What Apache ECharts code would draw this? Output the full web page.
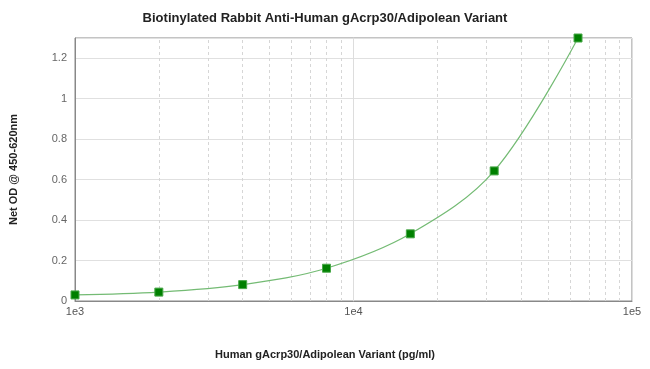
<!DOCTYPE html>
<html>
<head>
<meta charset="utf-8">
<script src="https://cdn.jsdelivr.net/npm/echarts@6/dist/echarts.min.js"></script>
<style>html,body{margin:0;padding:0;background:#fff;}#c{width:650px;height:369px;}</style>
</head>
<body>
<div id="c"></div>
<script>
var concentrations = [1000, 2000, 4000, 8000, 16000, 32000, 64000];
var odValues = [0.030, 0.044, 0.081, 0.162, 0.332, 0.643, 1.30];
var minorGridX = [2000, 3000, 4000, 5000, 6000, 7000, 8000, 9000, 20000, 30000, 40000, 50000, 60000, 70000, 80000, 90000];
var yTicks = [0, 0.2, 0.4, 0.6, 0.8, 1, 1.2];
var titleText = 'Biotinylated Rabbit Anti-Human gAcrp30/Adipolean Variant';
var xTitle = 'Human gAcrp30/Adipolean Variant (pg/ml)';
var yTitle = 'Net OD @ 450-620nm';

var pts = concentrations.map(function (c, i) { return [c, odValues[i]]; });
var chart = echarts.init(document.getElementById('c'), null, {renderer: 'canvas'});
var FONT = 'Liberation Sans, Arial, sans-serif';
chart.setOption({
  animation: false,
  backgroundColor: '#fff',
  title: [
    {text: titleText, left: 'center', top: 7, textStyle: {fontFamily: FONT, fontSize: 13, fontWeight: 'bold', color: '#222'}},
    {text: xTitle, left: 'center', top: 344, textStyle: {fontFamily: FONT, fontSize: 11, fontWeight: 'bold', color: '#222'}}
  ],
  grid: {left: 75, right: 18, top: 38, bottom: 68, show: true, borderColor: '#888', borderWidth: 1},
  xAxis: {
    type: 'log', logBase: 10, min: 1000, max: 100000,
    axisLine: {show: true, lineStyle: {color: '#888'}},
    axisTick: {show: false},
    axisLabel: {fontFamily: FONT, fontSize: 11, color: '#555', margin: 5,
      formatter: function (v) { return '1e' + Math.round(Math.log10(v)); }},
    splitLine: {show: true, lineStyle: {color: '#ddd', width: 1}}
  },
  yAxis: {
    type: 'value', min: 0, max: 1.3, interval: 0.2,
    name: yTitle, nameLocation: 'middle', nameGap: 56,
    nameTextStyle: {fontFamily: FONT, fontSize: 11, fontWeight: 'bold', color: '#222'},
    axisLine: {show: true, lineStyle: {color: '#888'}},
    axisTick: {show: false},
    axisLabel: {fontFamily: FONT, fontSize: 11, color: '#666', margin: 8,
      formatter: function (v) { return yTicks.indexOf(Math.round(v * 10) / 10) >= 0 ? String(Math.round(v * 10) / 10) : ''; }},
    splitLine: {show: true, lineStyle: {color: '#e0e0e0', width: 1}}
  },
  series: [
    {
      type: 'line', data: [], silent: true,
      markLine: {
        silent: true, symbol: ['none', 'none'], label: {show: false},
        lineStyle: {color: '#d6d6d6', type: [3, 3], width: 1},
        data: minorGridX.map(function (x) { return {xAxis: x}; })
      }
    },
    {
      type: 'line', data: pts, smooth: 0.35,
      symbol: 'rect', symbolSize: 8,
      itemStyle: {color: '#008000', borderColor: '#4aa84a', borderWidth: 1},
      lineStyle: {color: '#74bb74', width: 1.2},
      z: 5
    }
  ]
});
</script>
</body>
</html>
